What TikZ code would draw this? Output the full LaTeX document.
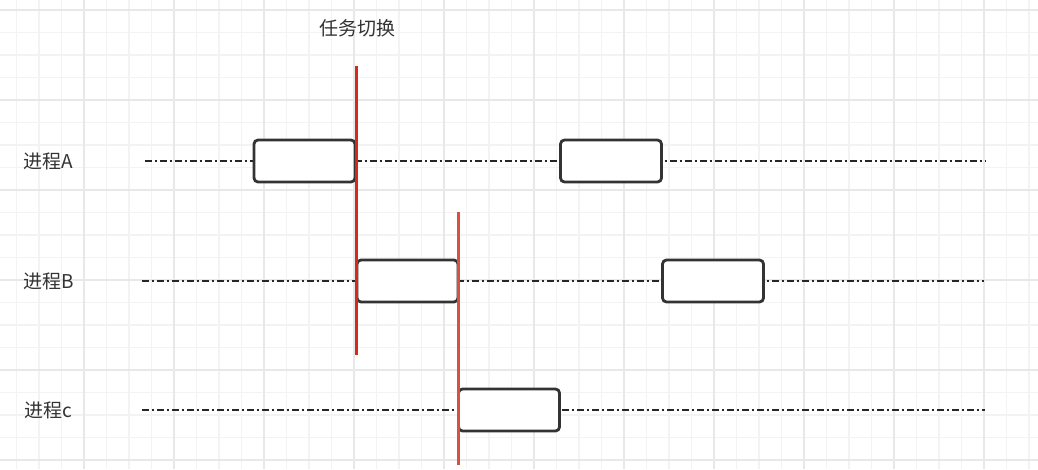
\documentclass[tikz,border=0pt]{standalone}
\usepackage{fontspec}
\newfontfamily\cjk{Noto Sans CJK SC}
\definecolor{gridminor}{HTML}{F3F3F3}
\definecolor{gridmajor}{HTML}{E8E8E8}
\definecolor{boxline}{HTML}{333333}
\definecolor{txt}{HTML}{333333}
\definecolor{redA}{HTML}{D42A1A}
\definecolor{redB}{HTML}{D9503F}
\tikzset{
  proc/.style={draw=boxline, line width=2.8pt, rounded corners=4pt, fill=white,
    minimum width=101pt, minimum height=42pt, inner sep=0pt},
  timeline/.style={draw=black!85, line width=1.3pt, dash pattern=on 6.5pt off 3pt on 2pt off 3.5pt},
  lbl/.style={font=\cjk\fontsize{19}{21}\selectfont, text=txt, inner sep=0pt},
  switchA/.style={draw=redA, line width=3pt},
  switchB/.style={draw=redB, line width=2.6pt},
}
\begin{document}
\begin{tikzpicture}[x=1pt,y=-1pt]
\useasboundingbox (0,0) rectangle (1038,469);
\fill[white] (0,0) rectangle (1038,469);
% grid
\foreach \i in {0,...,45} {
  \pgfmathsetmacro\gx{16.5+22.5*\i}
  \draw[gridminor, line width=1.2pt] (\gx,0) -- (\gx,469);
}
\foreach \j in {0,...,20} {
  \pgfmathsetmacro\gy{10+22.5*\j}
  \draw[gridminor, line width=1.2pt] (0,\gy) -- (1038,\gy);
}
\foreach \i in {0,...,11} {
  \pgfmathsetmacro\gx{84+90*\i-90}
  \draw[gridmajor, line width=1.4pt] (\gx,0) -- (\gx,469);
}
\foreach \j in {0,...,5} {
  \pgfmathsetmacro\gy{10+90*\j}
  \draw[gridmajor, line width=1.4pt] (0,\gy) -- (1038,\gy);
}
% labels
\node[lbl] (title) at (357,28) {任务切换};
\node[lbl, anchor=west] (la) at (23,161) {进程A};
\node[lbl, anchor=west] (lb) at (23,281) {进程B};
\node[lbl, anchor=west] (lc) at (24,410) {进程c};
% timelines
\coordinate (aS) at (145,161); \coordinate (aE) at (986,161);
\coordinate (bS) at (142,281); \coordinate (bE) at (984,281);
\coordinate (cS) at (142,410); \coordinate (cE) at (985,410);
\draw[timeline] (aS) -- (aE);
\draw[timeline] (bS) -- (bE);
\draw[timeline] (cS) -- (cE);
% boxes
\node[proc] (a1) at (304.5,161) {};
\node[proc] (a2) at (611,161) {};
\node[proc] (b1) at (407.5,281) {};
\node[proc] (b2) at (713,281) {};
\node[proc] (c1) at (509,410) {};
% switch lines
\coordinate (s1t) at (356,66); \coordinate (s1b) at (356,355);
\coordinate (s2t) at (458.3,212); \coordinate (s2b) at (458.3,465);
\draw[switchA] (s1t) -- (s1b);
\draw[switchB] (s2t) -- (s2b);
\end{tikzpicture}
\end{document}
